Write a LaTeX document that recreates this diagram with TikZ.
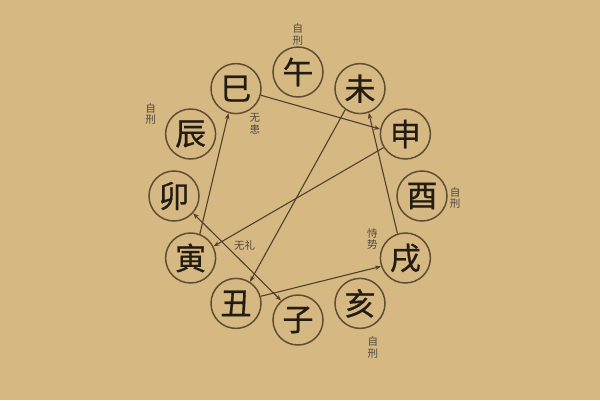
\documentclass[tikz,border=0pt]{standalone}
\usepackage{fontspec}
\newfontfamily\cjk{Noto Sans CJK SC}
\newfontfamily\cjkbold[FakeBold=0.6]{Noto Sans CJK SC}
\usetikzlibrary{arrows.meta,positioning}
\definecolor{paper}{RGB}{214,184,130}
\definecolor{ink}{RGB}{34,28,18}
\definecolor{rim}{RGB}{96,78,52}
\definecolor{wire}{RGB}{80,64,46}
\tikzset{
  branch/.style={circle, draw=rim, line width=1.5pt, minimum size=50pt, inner sep=0pt, text=ink, font=\cjkbold\fontsize{31}{31}\selectfont},
  note/.style={inner sep=0pt, align=center, text=ink!80, font=\cjk\fontsize{10.5}{11.5}\selectfont},
  conn/.style={draw=wire, line width=1.1pt}
}
\begin{document}
\begin{tikzpicture}[x=1pt, y=1pt, >={Stealth[length=6pt,width=4.5pt]}]
				\fill[paper] (-298,-204) rectangle (302,196);
				\foreach \a/\n/\t in {90/wu/午, 60/wei/未, 30/shen/申, 0/you/酉, -30/xu/戌, -60/hai/亥, -90/zi/子, -120/chou/丑, -150/yin/寅, 180/mao/卯, 150/chen/辰, 120/si/巳}
					\node[branch] (\n) at (\a:124) {\t};
				\node[note, above=1pt of wu] (wuNote) {自\\刑};
				\node[note] (chenNote) at ([shift={(-40,20)}]chen) {自\\刑};
				\node[note] (siNote) at ([shift={(19,-35)}]si) {无\\患};
				\node[note] (youNote) at ([shift={(33,-2)}]you) {自\\刑};
				\node[note] (xuNote) at ([shift={(-33,19)}]xu) {恃\\势};
				\node[note] (haiNote) at ([shift={(13,-44)}]hai) {自\\刑};
				\node[note] (yinNote) at ([shift={(54,13)}]yin) {无礼};
				\draw[conn,->] (si.-15) -- (shen.169);
				\draw[conn,->] (yin.69) -- (si.-107);
				\draw[conn,->] (shen.212) -- (yin.27);
				\draw[conn,->] (wei.235) -- (chou.57);
				\draw[conn,->] (xu.108) -- (wei.-70);
				\draw[conn,->] (chou.16) -- (xu.199);
				\draw[conn,<->] (mao.-42) -- (zi.131);
			\end{tikzpicture}
\end{document}
